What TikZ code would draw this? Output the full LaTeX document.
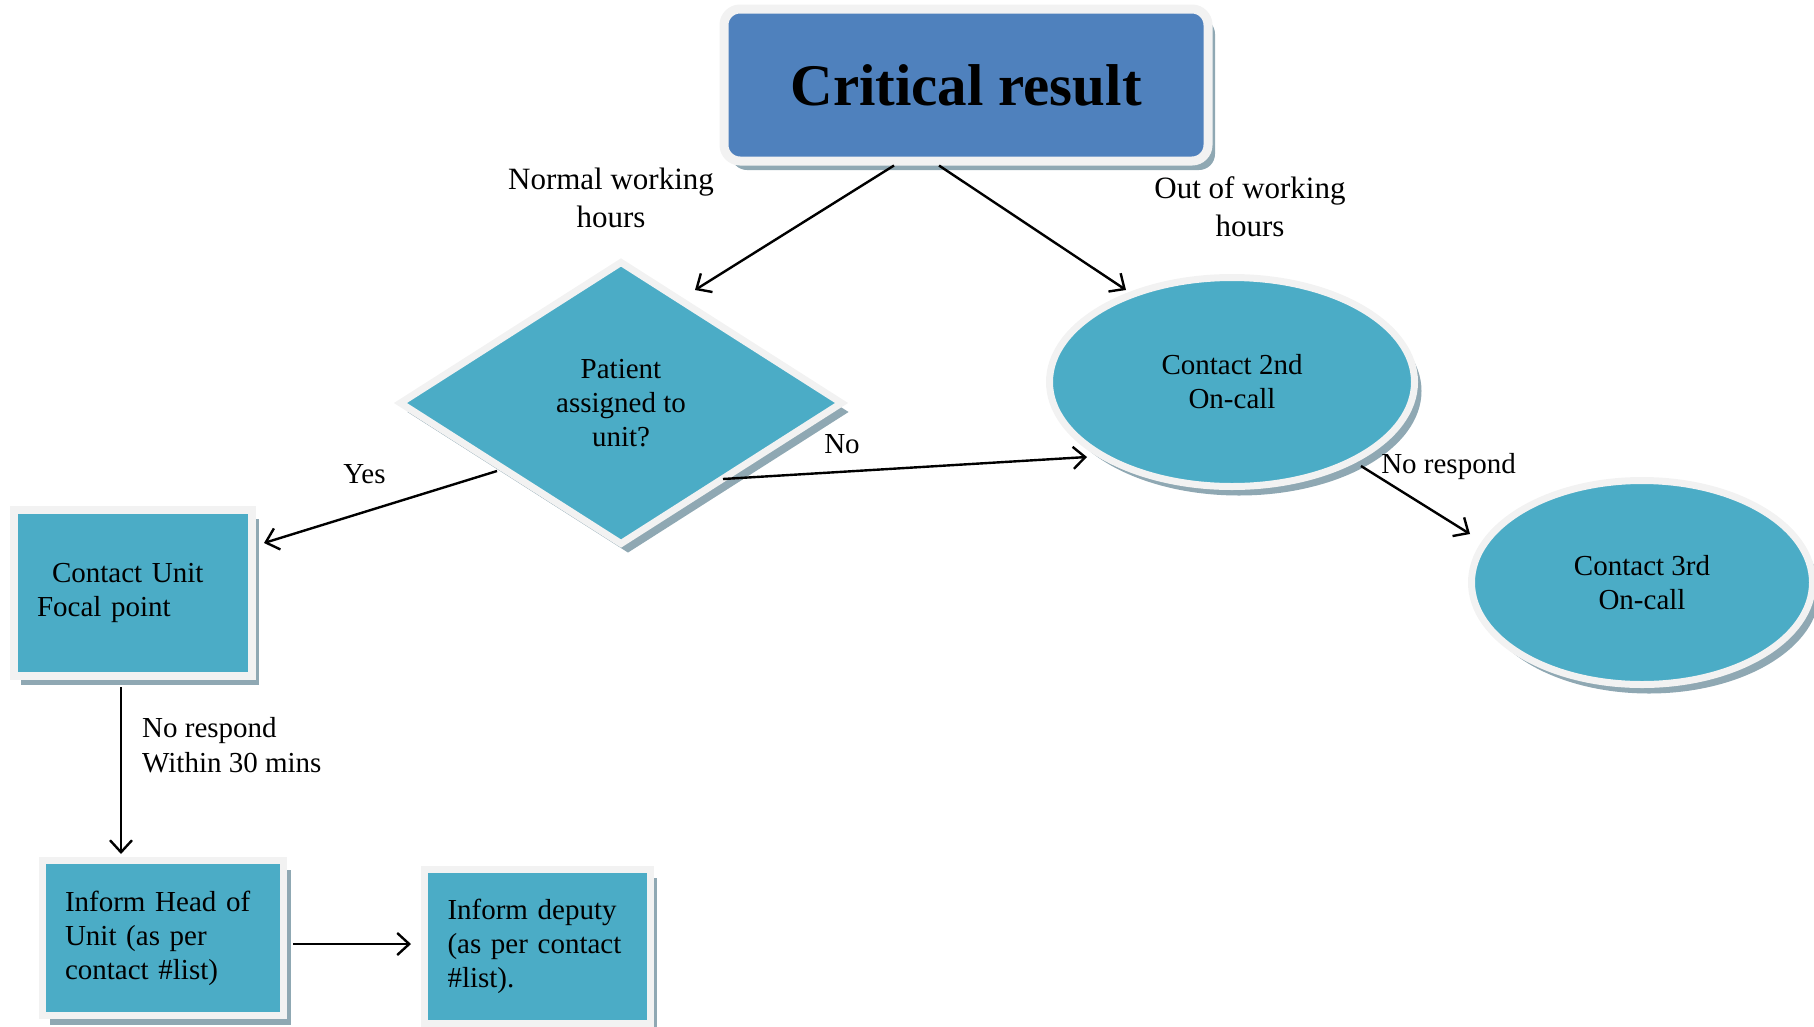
\documentclass[tikz,border=0pt]{standalone}
\usepackage{fontspec}
\setmainfont{Liberation Serif}
\usetikzlibrary{shapes.geometric,shadows,arrows.meta}
\definecolor{cellfill}{HTML}{4BACC6}
\definecolor{titlefill}{HTML}{4F81BD}
\definecolor{rimcol}{HTML}{F2F2F2}
\definecolor{shadecol}{HTML}{8FA8B3}

\begin{document}
\begin{tikzpicture}[x=1pt,y=-1pt,
    every node/.style={inner sep=0pt},
    castshadow/.style={drop shadow={shadow xshift=7pt,shadow yshift=-9pt,fill=shadecol,opacity=1}},
    cell/.style={castshadow,draw=rimcol,fill=cellfill,line width=7pt,font=\fontsize{29}{34}\selectfont},
    cellbox/.style={cell,rectangle,align=left},
    oval/.style={cell,ellipse,align=center},
    lbl/.style={font=\fontsize{29}{35}\selectfont,anchor=base},
    arr/.style={line width=2.4pt,-{Straight Barb[length=12pt,width=22pt]}}]
    \useasboundingbox (0,0) rectangle (1814,1026);
    % boxes
    \node [castshadow,draw=rimcol,fill=titlefill,line width=9pt,rounded corners=16pt,
           minimum width=484pt,minimum height=152pt,
           font=\bfseries\fontsize{59}{70}\selectfont] (crit) at (966,85) {Critical result};
    \node [cell,diamond,aspect=1.56,minimum width=444pt,minimum height=284pt,align=center]
          (assigned) at (621,403) {Patient\\assigned to\\unit?};
    \node [oval,minimum width=365pt,minimum height=209pt] (oncall2) at (1232,382) {Contact 2nd\\On-call};
    \node [oval,minimum width=341pt,minimum height=204pt] (oncall3) at (1642,582.5) {Contact 3rd\\On-call};
    \node [cellbox,line width=8pt,minimum width=238pt,minimum height=166pt,text width=192pt]
          (focal) at (133,593) {\hspace*{15pt}Contact Unit\\Focal point};
    \node [cellbox,minimum width=241pt,minimum height=155pt,text width=196pt]
          (head) at (163,938) {Inform Head of\\Unit (as per\\contact \#list)};
    \node [cellbox,minimum width=226pt,minimum height=154pt,text width=179pt]
          (deputy) at (537,946) {Inform deputy\\(as per contact\\\#list).};
    % labels (base = last line)
    \node [lbl,font=\fontsize{31}{37.5}\selectfont,align=center] (normal) at (611,227) {Normal working\\hours};
    \node [lbl,font=\fontsize{31}{37.5}\selectfont,align=center] (outhrs) at (1250,236) {Out of working\\hours};
    \node [lbl] (yes) at (364.5,483) {Yes};
    \node [lbl] (no) at (842,453) {No};
    \node [lbl] (noresp) at (1448.5,473) {No respond};
    \node [lbl,anchor=base west,align=left] (within) at (142,772) {No respond\\Within 30 mins};
    % arrows
    \draw [arr] ([xshift=-72pt]crit.south) -- ([xshift=74pt,yshift=113pt]assigned.center);
    \draw [arr] ([xshift=-27pt]crit.south) -- ([xshift=-106pt,yshift=92pt]oncall2.center);
    \draw [arr] ([xshift=-124pt,yshift=-68pt]assigned.center) -- ([xshift=8pt,yshift=50pt]focal.east);
    \draw [arr] ([xshift=102pt,yshift=-76pt]assigned.center) -- ([xshift=-145pt,yshift=-75pt]oncall2.center);
    \draw [arr] ([xshift=129pt,yshift=-84pt]oncall2.center) -- ([xshift=-172pt,yshift=48.5pt]oncall3.center);
    \draw [arr] ([xshift=-12pt,yshift=-7pt]focal.south) -- ([xshift=-42pt,yshift=3pt]head.north);
    \draw [arr] ([xshift=6pt,yshift=-6pt]head.east) -- ([xshift=-9.5pt,yshift=2pt]deputy.west);
\end{tikzpicture}
\end{document}
